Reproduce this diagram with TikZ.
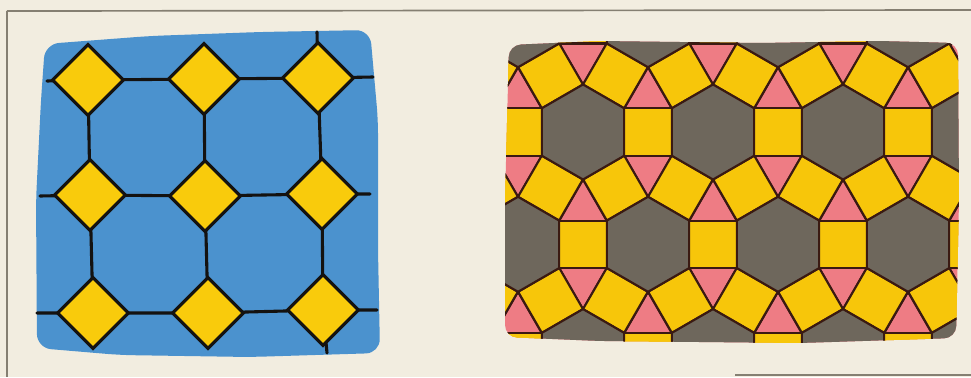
\documentclass[tikz,border=0pt]{standalone}
\usetikzlibrary{shapes.geometric}
\definecolor{cream}{HTML}{F2EDE0}
\definecolor{framegrey}{HTML}{857F72}
\definecolor{paintblue}{HTML}{4B92CE}
\definecolor{diayellow}{HTML}{F9CB0C}
\definecolor{inkblack}{HTML}{141210}
\definecolor{tyellow}{HTML}{F7C60A}
\definecolor{tpink}{HTML}{EE7C84}
\definecolor{tgrey}{HTML}{6E675C}
\definecolor{tline}{HTML}{3A1A12}
\tikzset{
  dia/.style={shape=diamond, draw=inkblack, fill=diayellow, line width=2.2pt, minimum width=1.8cm, minimum height=1.8cm, inner sep=0pt},
  gridline/.style={draw=inkblack, line width=2.2pt, line cap=round},
  sqtile/.style={fill=tyellow, draw=tline, line width=1.5pt, line join=round},
  hextile/.style={fill=tgrey, draw=tline, line width=1.5pt, line join=round},
  frameline/.style={draw=framegrey, line width=1.2pt}
}
\begin{document}
\begin{tikzpicture}[x=0.025cm, y=-0.025cm]
\useasboundingbox (0,0) rectangle (971,377);
\fill[cream] (0,0) rectangle (971,377);
% frame lines
\coordinate (fTL) at (7,11);
\coordinate (fTR) at (971,10);
\coordinate (fBL) at (7,377);
\coordinate (fB1) at (735,375);
\coordinate (fB2) at (971,375);
\draw[frameline] (fTL) -- (fTR);
\draw[frameline] (fTL) -- (fBL);
\draw[frameline] (fB1) -- (fB2);

% ---------- left panel ----------
\fill[paintblue, rounded corners=0.35cm] (45,44) -- (150,36) -- (260,32) -- (370,30) -- (378,120) -- (378,250) -- (380,353) -- (250,357) -- (120,355) -- (37,348) -- (36,200) -- (41,100) -- cycle;

\coordinate (h1L) at (47,81);
\coordinate (h1R) at (373,77);
\coordinate (h2L) at (40,196);
\coordinate (h2R) at (370,194);
\coordinate (h3L) at (37,313);
\coordinate (h3R) at (377,310);
\coordinate (v3T) at (317,32);
\coordinate (v3B) at (327,353);

\path
  (88,80) coordinate (c11) (204,79) coordinate (c12) (318,78) coordinate (c13)
  (90,195) coordinate (c21) (205,196) coordinate (c22) (322,194) coordinate (c23)
  (93,313) coordinate (c31) (208,313) coordinate (c32) (323,310) coordinate (c33);

% connectors (drawn under the diamonds)
\begin{scope}[gridline]
\draw (h1L) -- (c11) -- (c12) -- (c13) -- (h1R);
\draw (h2L) -- (c21) -- (c22) -- (c23) -- (h2R);
\draw (h3L) -- (c31) -- (c32) -- (c33) -- (h3R);
\draw (c11) -- (c21) -- (c31);
\draw (c12) -- (c22) -- (c32);
\draw (v3T) -- (c13) -- (c23) -- (c33) -- (v3B);
\end{scope}

\foreach \n in {11,12,13,21,22,23,31,32,33}{
  \node[dia] (d\n) at (c\n) {};
}

% ---------- right panel ----------
\def\s{47.5}
\begin{scope}
\clip[rounded corners=0.3cm] (509,45) -- (600,41) -- (760,43) -- (880,41) -- (958,43) -- (959,200) -- (956,338) -- (800,343) -- (600,341) -- (505,337) -- (505,200) -- cycle;
\fill[tpink] (495,30) rectangle (970,355);
\foreach \r in {-1,...,4}{
  \foreach \i in {-1,...,4}{
    \pgfmathsetmacro\cx{583+130*\i-65*mod(\r+1,2)}
    \pgfmathsetmacro\cy{132+112.3*(\r-1)}
    \foreach \k in {0,...,5}{
      \filldraw[sqtile] ([shift={(\cx,\cy)}]{30+60*\k}:\s) -- ++({60+60*\k}:\s) -- ++({150+60*\k}:\s) -- ++({240+60*\k}:\s) -- cycle;
    }
  }
}
\foreach \r in {-1,...,4}{
  \foreach \i in {-1,...,4}{
    \pgfmathsetmacro\cx{583+130*\i-65*mod(\r+1,2)}
    \pgfmathsetmacro\cy{132+112.3*(\r-1)}
    \filldraw[hextile] ([shift={(\cx,\cy)}]30:\s) -- ([shift={(\cx,\cy)}]90:\s) -- ([shift={(\cx,\cy)}]150:\s) -- ([shift={(\cx,\cy)}]210:\s) -- ([shift={(\cx,\cy)}]270:\s) -- ([shift={(\cx,\cy)}]330:\s) -- cycle;
  }
}
\end{scope}
\end{tikzpicture}
\end{document}
